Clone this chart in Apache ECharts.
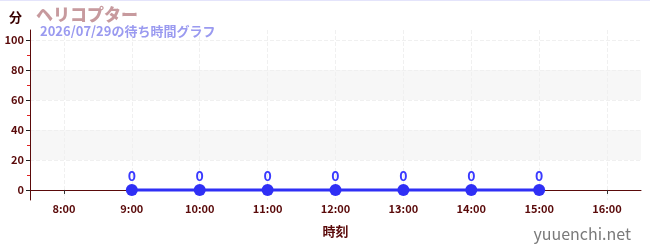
<!DOCTYPE html>
<html>
<head>
<meta charset="utf-8">
<script src="https://cdn.jsdelivr.net/npm/echarts@6/dist/echarts.min.js"></script>
<style>
  html, body { margin: 0; padding: 0; background: #fff; }
  #chart { width: 650px; height: 250px; border-top: 1px solid #e4e4fb; box-sizing: border-box; }
</style>
</head>
<body>
<div id="chart"></div>
<script>
// hours on the x axis, waiting minutes on the y axis
const hourTicks = [8, 9, 10, 11, 12, 13, 14, 15, 16];
const times = [9, 10, 11, 12, 13, 14, 15];
const waits = [0, 0, 0, 0, 0, 0, 0];
const yTicks = [0, 20, 40, 60, 80, 100];
const yMinorTicks = [10, 30, 50, 70, 90];

const axisColor = '#5a0a0a';
const font = '"Noto Sans CJK JP", "Noto Sans", sans-serif';

const chart = echarts.init(document.getElementById('chart'));
chart.setOption({
  animation: false,
  textStyle: { fontFamily: font },
  title: [{
    text: 'ヘリコプター',
    left: 31, top: 0,
    textStyle: { color: '#c79a9e', fontSize: 17, fontWeight: 900, fontFamily: font }
  }, {
    text: '2026/07/29の待ち時間グラフ',
    left: 35, top: 19,
    textStyle: { color: '#9a9af0', fontSize: 13, fontWeight: 'bold', fontFamily: font }
  }, {
    text: 'yuuenchi.net',
    right: 14, bottom: 3,
    textStyle: { color: '#7a7a7a', fontSize: 16, fontWeight: 'normal', fontFamily: font }
  }],
  grid: { left: 30, right: 9, top: 29, bottom: 50 },
  xAxis: {
    type: 'value',
    min: 7.5, max: 16.5,
    name: '時刻',
    nameLocation: 'middle',
    nameGap: 25,
    nameTextStyle: { color: axisColor, fontSize: 13, fontWeight: 'bold' },
    axisLine: { lineStyle: { color: axisColor, width: 1 } },
    axisTick: { customValues: hourTicks, length: 4, lineStyle: { color: '#333' } },
    axisLabel: {
      customValues: hourTicks,
      color: axisColor, fontSize: 11, fontWeight: 'bold', margin: 3,
      formatter: v => v + ':00'
    },
    splitLine: { show: true, lineStyle: { color: '#f0f0f0', type: 'dashed' } }
  },
  yAxis: [{
    type: 'value',
    min: -6.7, max: 106.7,
    name: '分',
    nameLocation: 'end',
    nameGap: 6,
    nameTextStyle: { color: '#3a0000', fontSize: 13, fontWeight: 'bold', align: 'right', padding: [0, 8, 0, 0] },
    axisLine: { show: true, lineStyle: { color: axisColor, width: 1 } },
    axisTick: { show: true, customValues: yTicks, length: 4, lineStyle: { color: '#222' } },
    axisLabel: { customValues: yTicks, color: axisColor, fontSize: 11, fontWeight: 'bold', margin: 6 },
    splitLine: { show: true, lineStyle: { color: '#f0f0f0', type: 'dashed' } },
    splitArea: { show: true, areaStyle: { color: ['rgba(255,255,255,0)', '#f7f7f7'] } }
  }, {
    type: 'value',
    min: -6.7, max: 106.7,
    position: 'left',
    axisLine: { show: false },
    axisTick: { show: true, customValues: yMinorTicks, length: 3, lineStyle: { color: '#e02020' } },
    axisLabel: { show: false, customValues: yMinorTicks },
    splitLine: { show: false }
  }],
  series: [{
    type: 'line',
    data: times.map((t, i) => [t, waits[i]]),
    color: '#2f2ff5',
    symbol: 'circle',
    symbolSize: 12,
    lineStyle: { width: 3, color: '#2f2ff5' },
    itemStyle: { color: '#2f2ff5' },
    label: {
      show: true, position: 'top', distance: 1,
      color: '#3a3aff', fontSize: 14, fontWeight: 'bold'
    }
  }]
});
</script>
</body>
</html>
